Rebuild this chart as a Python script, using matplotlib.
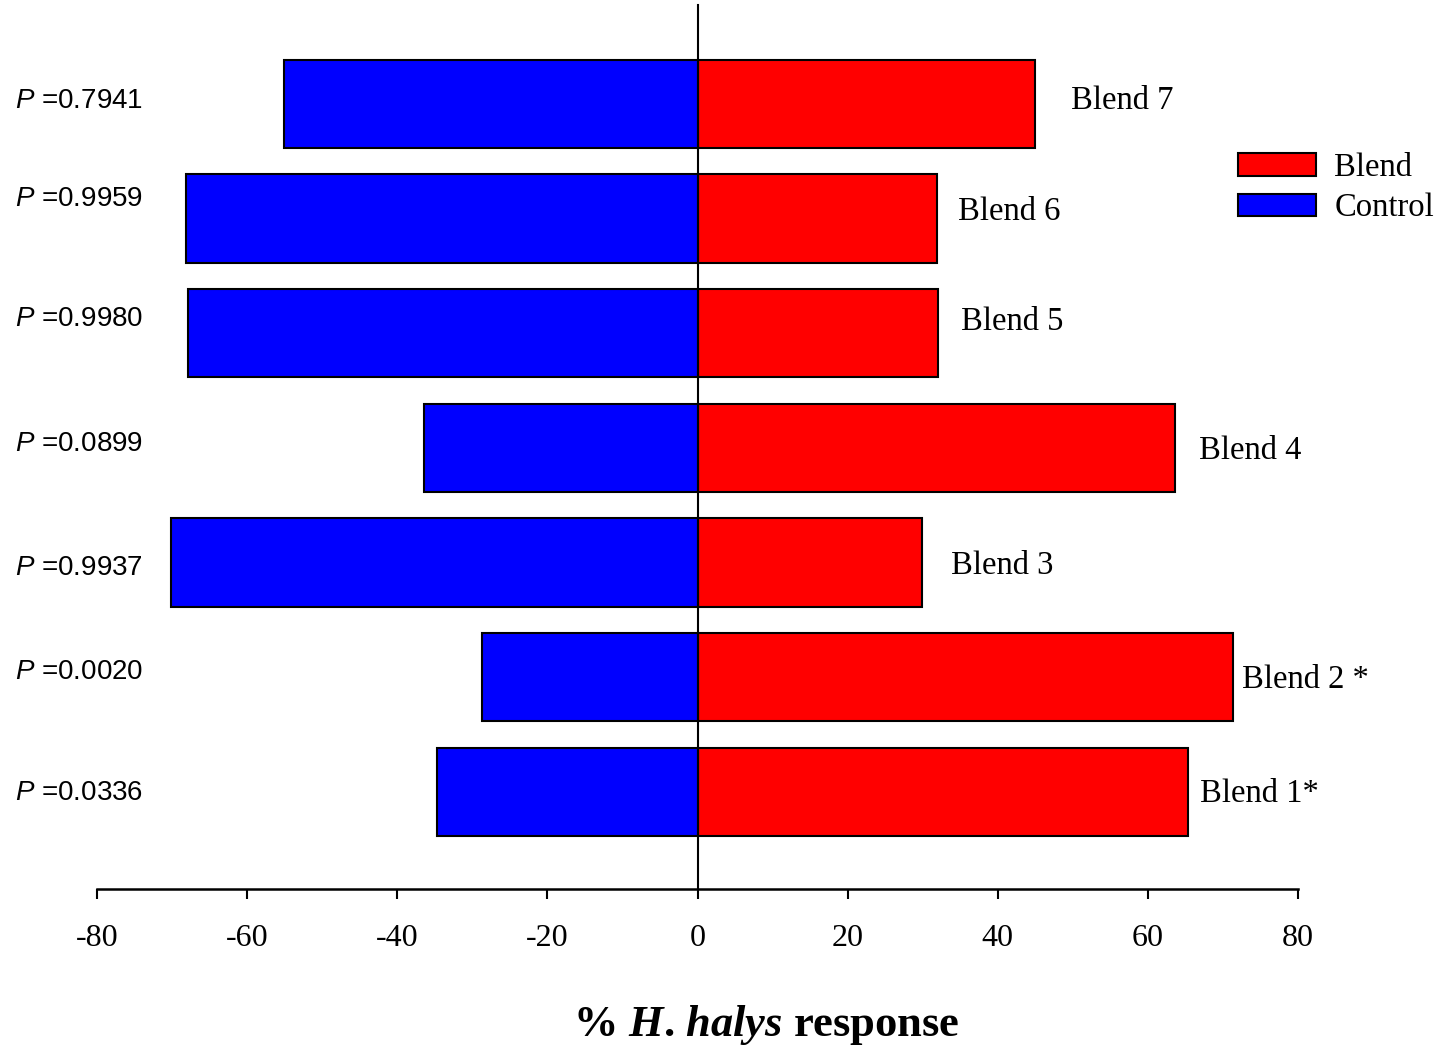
import matplotlib
matplotlib.use('Agg')
import matplotlib.pyplot as plt
import numpy as np

plt.rcParams['mathtext.fontset'] = 'custom'
plt.rcParams['mathtext.it'] = 'Liberation Serif:bold:italic'
plt.rcParams['mathtext.sf'] = 'Liberation Sans:italic'
plt.rcParams['axes.unicode_minus'] = False

# data, bottom to top
blends = ['Blend 1', 'Blend 2', 'Blend 3', 'Blend 4', 'Blend 5', 'Blend 6', 'Blend 7']
blend_pct = [65.3, 71.3, 29.9, 63.6, 32.1, 31.9, 44.9]
control_pct = [34.7, 28.7, 70.1, 36.4, 67.9, 68.1, 55.1]
p_values = ['0.0336', '0.0020', '0.9937', '0.0899', '0.9980', '0.9959', '0.7941']
sig_marks = ['*', ' *', '', '', '', '', '']

# label nudges (points), copied from the original layout
label_dx = [9, 7, 21, 17, 16, 15, 26]
label_dy = [-1, -2, -2, -2, 8, 5, 2]
p_dy = [-1, 4, -4, 3, 10, 14, 2]

fig = plt.figure(figsize=(14.51, 10.52), dpi=100)
ax = fig.add_axes([97 / 1451, 163 / 1052, 1201 / 1451, 884 / 1052])

y = np.arange(len(blends))
ax.barh(y, blend_pct, height=0.77, color='#ff0000', edgecolor='black', linewidth=1.5, label='Blend')
ax.barh(y, [-c for c in control_pct], height=0.77, color='#0000ff', edgecolor='black', linewidth=1.5, label='Control')

ax.set_xlim(-80, 80)
ax.set_ylim(-0.846, 6.863)
ax.set_xticks(range(-80, 81, 20))

ax.spines['top'].set_visible(False)
ax.spines['right'].set_visible(False)
ax.spines['left'].set_position(('data', 0))
ax.spines['left'].set_linewidth(1.5)
ax.spines['bottom'].set_linewidth(1.8)
ax.tick_params(axis='y', left=False, labelleft=False)
ax.tick_params(axis='x', direction='out', length=7, width=1.5, pad=18)
for t in ax.get_xticklabels():
    t.set_fontfamily('Liberation Serif')
    t.set_fontsize(23)

for i in range(len(blends)):
    ax.annotate(blends[i] + sig_marks[i], xy=(blend_pct[i], y[i]), xytext=(label_dx[i], label_dy[i]),
                textcoords='offset points', va='center', ha='left',
                fontfamily='Liberation Serif', fontsize=23.5)
    ax.annotate(r'$\mathsf{P}$ =' + p_values[i], xy=(15 / 1451, y[i]),
                xycoords=('figure fraction', 'data'), xytext=(0, p_dy[i]),
                textcoords='offset points', va='center', ha='left',
                fontfamily='Liberation Sans', fontsize=20)

ax.legend(loc='center left', bbox_to_anchor=(1238 / 1451, 1 - 188 / 1052),
          bbox_transform=fig.transFigure, frameon=False,
          prop={'family': 'Liberation Serif', 'size': 23.5},
          handlelength=2.4, handleheight=0.7, handletextpad=0.55,
          labelspacing=0.3, borderpad=0, borderaxespad=0)

fig.text(766 / 1451, 1 - 1036 / 1052, r'% $\mathit{H}$. $\mathit{halys}$ response',
         ha='center', va='baseline', fontfamily='Liberation Serif',
         fontweight='bold', fontsize=32)

fig.savefig('out.png', dpi=100)
